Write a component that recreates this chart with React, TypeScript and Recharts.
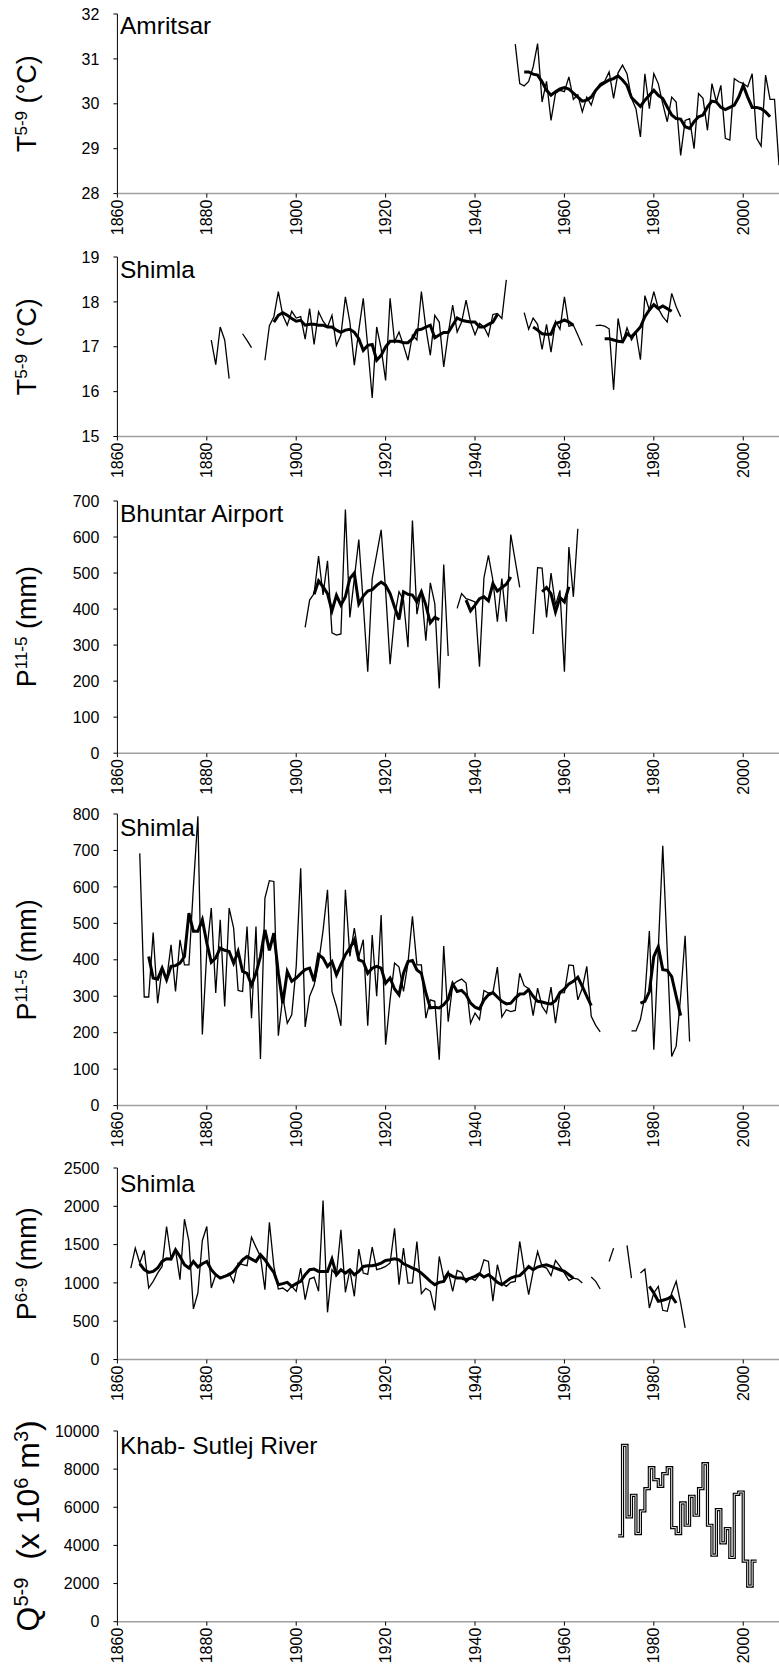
import React from 'react';
import { LineChart, Line, XAxis, YAxis } from 'recharts';

// ---------- x axis ----------
const X_DOMAIN: [number, number] = [1860, 2008];
const X_TICKS = [1860, 1880, 1900, 1920, 1940, 1960, 1980, 2000];

// ---------- Panel 1: Amritsar T5-9 ----------
const amritsarAnnualStart = 1949;
const amritsarAnnual = [
  31.33, 30.45, 30.4, 30.5, 30.82, 31.34, 30.04, 30.5, 29.63, 30.23,
  30.3, 30.27, 30.6, 30.1, 30.2, 29.82, 30.15, 29.97, 30.3, 30.45,
  30.5, 30.71, 30.12, 30.69, 30.86, 30.67, 30.12, 29.89, 29.26, 30.67,
  29.89, 30.67, 30.45, 30.0, 29.6, 30.15, 30.04, 28.85, 29.63, 29.67,
  29.0, 30.23, 30.12, 29.41, 30.45, 30.04, 30.41, 29.23, 29.19, 30.56,
  30.49, 30.45, 30.38, 30.67, 29.23, 29.06, 30.64, 30.1, 30.1, 28.63,
];
const amritsarSmoothStart = 1951;
const amritsarSmooth = [
  30.71, 30.71, 30.66, 30.64, 30.49, 30.3, 30.19, 30.27, 30.33, 30.36,
  30.33, 30.24, 30.15, 30.06, 30.08, 30.15, 30.3, 30.41, 30.47, 30.53,
  30.56, 30.62, 30.53, 30.41, 30.14, 30.04, 29.94, 30.08, 30.19, 30.3,
  30.19, 30.12, 29.93, 29.75, 29.67, 29.66, 29.49, 29.45, 29.6, 29.71,
  29.75, 29.93, 30.06, 30.04, 29.92, 29.87, 29.92, 29.97, 30.15, 30.41,
  30.15, 29.92, 29.92, 29.89, 29.82, 29.71,
];
const amritsarTicks = [28, 29, 30, 31, 32];

// ---------- Panel 2: Shimla T5-9 ----------
const shimlaTAnnualStart = 1881;
const shimlaTAnnual: (number | null)[] = [
  17.15, 16.6, 17.44, 17.15, 16.29, null, null, 17.29, 17.14, 16.98,
  null, null, 16.7, 17.47, 17.67, 18.23, 17.7, 17.48, 17.79, 17.64,
  17.67, 17.17, 17.85, 17.05, 17.78, 17.57, 17.44, 17.7, 17.03, 17.26,
  18.11, 17.55, 16.59, 17.37, 18.08, 17.0, 15.86, 17.44, 16.96, 16.25,
  18.08, 17.11, 17.33, 17.03, 16.7, 17.26, 17.15, 18.23, 17.42, 16.81,
  17.7, 17.55, 16.55, 17.29, 17.93, 17.33, 17.55, 18.04, 17.55, 17.27,
  17.52, 17.44, 17.24, 17.72, 17.74, 17.63, 18.49, null, null, null,
  17.76, 17.39, 17.64, 17.5, 16.94, 17.5, 16.88, 17.57, 17.39, 18.11,
  17.46, 17.48, 17.26, 17.03, null, null, 17.47, 17.48, 17.46, 17.4,
  16.04, 17.63, 17.09, 17.42, 17.15, 17.32, 16.71, 18.14, 17.82, 18.23,
  17.85, 17.67, 17.55, 18.19, 17.89, 17.67,
];
const shimlaTSmoothStart = 1895;
const shimlaTSmooth: (number | null)[] = [
  17.55, 17.7, 17.76, 17.7, 17.63, 17.57, 17.59, 17.48, 17.5, 17.5,
  17.48, 17.48, 17.44, 17.44, 17.37, 17.32, 17.37, 17.39, 17.32, 17.18,
  16.92, 17.03, 17.05, 16.7, 16.81, 17.0, 17.12, 17.12, 17.12, 17.09,
  17.09, 17.18, 17.37, 17.39, 17.44, 17.48, 17.2, 17.26, 17.32, 17.32,
  17.48, 17.64, 17.59, 17.57, 17.55, 17.55, 17.44, 17.44, 17.5, 17.55,
  17.72, null, null, null, null, null, null, null, 17.44, 17.37,
  17.29, 17.28, 17.28, 17.52, 17.55, 17.6, 17.55, 17.48, null, null,
  null, null, null, null, 17.18, 17.18, 17.15, 17.12, 17.11, 17.29,
  17.22, 17.33, 17.44, 17.67, 17.82, 17.94, 17.85, 17.91, 17.85, 17.79,
];
const shimlaTTicks = [15, 16, 17, 18, 19];

// ---------- Panel 3: Bhuntar Airport P11-5 ----------
const bhuntarAnnualStart = 1902;
const bhuntarAnnual: (number | null)[] = [
  349, 425, 443, 547, 439, 534, 334, 328, 331, 676,
  377, 485, 593, 415, 226, 485, 552, 620, 452, 247,
  379, 448, 425, 294, 646, 386, 452, 312, 473, 415,
  180, 524, 270, null, 402, 443, 429, 425, 420, 240,
  487, 549, 480, 365, 485, 365, 607, 534, 460, null,
  null, 331, 515, 514, 377, 500, 411, 452, 226, 572,
  434, 623,
];
const bhuntarSmoothStart = 1904;
const bhuntarSmooth: (number | null)[] = [
  441, 478, 462, 443, 395, 438, 411, 434, 485, 500,
  414, 436, 450, 454, 466, 475, 466, 443, 406, 371,
  448, 441, 439, 420, 448, 411, 362, 377, 371, null,
  null, null, null, null, 425, 395, 411, 429, 434, 423,
  471, 450, 460, 469, 489, null, null, null, null, null,
  null, 448, 460, 443, 392, 432, 420, 462,
];
const bhuntarTicks = [0, 100, 200, 300, 400, 500, 600, 700];

// ---------- Panel 4: Shimla P11-5 ----------
const shimlaPwAnnualStart = 1865;
const shimlaPwAnnual: (number | null)[] = [
  692, 298, 298, 475, 281, 377, 345, 441, 313, 455,
  386, 386, 600, 794, 195, 423, 542, 309, 510, 272,
  542, 487, 316, 313, 491, 240, 491, 128, 569, 617,
  615, 192, 300, 226, 249, 382, 651, 216, 300, 330,
  390, 480, 592, 313, 272, 219, 592, 409, 487, 409,
  455, 219, 468, 300, 523, 167, 290, 391, 380, 313,
  391, 519, 386, 386, 240, 290, 286, 126, 438, 230,
  331, 341, 347, 336, 226, 254, 236, 316, 309, 310,
  380, 243, 263, 258, 261, 363, 329, 321, 247, 322,
  272, 254, 325, 226, 309, 310, 386, 384, 290, 322,
  382, 245, 220, 202, null, null, null, null, null, null,
  205, 205, 236, 300, 479, 153, 430, 713, 424, 135,
  163, 300, 466, 176,
];
const shimlaPwSmoothStart = 1867;
const shimlaPwSmooth: (number | null)[] = [
  409, 350, 347, 377, 345, 382, 384, 391, 409, 528,
  478, 478, 510, 446, 393, 405, 432, 426, 423, 391,
  423, 368, 363, 331, 363, 409, 482, 426, 473, 363,
  281, 368, 341, 350, 362, 373, 377, 341, 414, 405,
  382, 395, 359, 387, 414, 432, 455, 400, 395, 363,
  377, 382, 377, 336, 350, 320, 304, 363, 395, 398,
  372, 363, 309, 268, 270, 268, 277, 292, 334, 313,
  316, 304, 281, 270, 265, 290, 304, 310, 298, 286,
  279, 281, 295, 306, 307, 318, 300, 286, 284, 281,
  279, 288, 310, 320, 334, 341, 352, 327, 300, 274,
  null, null, null, null, null, null, null, null, null, null,
  281, 286, 313, 409, 436, 373, 371, 354, 300, 247,
];
const shimlaPwTicks = [0, 100, 200, 300, 400, 500, 600, 700, 800];

// ---------- Panel 5: Shimla P6-9 ----------
const shimlaPsAnnualStart = 1863;
const shimlaPsAnnual: (number | null)[] = [
  1194, 1454, 1259, 1424, 933, 1020, 1128, 1215, 1736, 1324,
  1432, 1042, 1831, 1541, 660, 868, 1554, 1736, 933, 1107,
  1076, 1090, 1128, 1007, 1259, 1240, 1224, 1597, 1467, 1345,
  911, 1792, 1215, 920, 933, 890, 955, 890, 1194, 781,
  1050, 1076, 890, 2075, 616, 1172, 1100, 1693, 877, 1172,
  825, 1441, 1128, 1110, 1467, 1172, 1190, 1215, 1260, 1714,
  977, 1454, 998, 1000, 1541, 859, 930, 890, 642, 1345,
  1063, 1150, 890, 1163, 1137, 1007, 1063, 1033, 1107, 1302,
  1280, 760, 1237, 998, 955, 1007, 1020, 1541, 1172, 846,
  1150, 1410, 1215, 1194, 1094, 1293, 1215, 1128, 1033, 1063,
  1050, 998, null, 1076, 1020, 920, null, 1280, 1454, null,
  null, 1489, 1063, null, 1128, 1180, 673, 868, 955, 642,
  629, 868, 1020, 738, 412,
];
const shimlaPsSmoothStart = 1865;
const shimlaPsSmooth: (number | null)[] = [
  1250, 1172, 1137, 1150, 1194, 1280, 1315, 1311, 1432, 1345,
  1237, 1194, 1280, 1207, 1250, 1280, 1172, 1107, 1063, 1085,
  1107, 1150, 1224, 1302, 1345, 1311, 1280, 1367, 1302, 1215,
  1137, 977, 990, 1007, 955, 990, 1020, 1107, 1172, 1180,
  1150, 1150, 1150, 1311, 1107, 1172, 1128, 1172, 1107, 1150,
  1215, 1224, 1224, 1237, 1259, 1293, 1302, 1315, 1302, 1250,
  1224, 1194, 1172, 1128, 1076, 1020, 977, 1007, 1020, 1120,
  1085, 1063, 1063, 1042, 1063, 1085, 1120, 1076, 1107, 1063,
  1007, 977, 1020, 1063, 1085, 1094, 1150, 1215, 1172, 1207,
  1224, 1237, 1215, 1194, 1172, 1150, 1107, 1063, null, null,
  null, null, null, null, null, null, null, null, null, null,
  null, null, null, null, 955, 868, 760, 773, 790, 825,
  738,
];
const shimlaPsTicks = [0, 500, 1000, 1500, 2000, 2500];

// ---------- Panel 6: Khab - Sutlej River Q5-9 ----------
const khabStart = 1972;
const khabFlow = [
  4500, 9245, 5494, 6628, 4622, 5808, 6976, 8075, 7447, 7098,
  7761, 8075, 4936, 4622, 6227, 5058, 6576, 5581, 6976, 8284,
  5058, 3488, 5878, 4134, 4884, 3366, 6680, 6802, 3174, 1866,
  3174, 3174,
];
const khabTicks = [0, 2000, 4000, 6000, 8000, 10000];

// ---------- helpers ----------
type Series = { start: number; values: (number | null)[] };
function buildRows(map: Record<string, Series>) {
  const rows: any[] = [];
  for (let y = X_DOMAIN[0]; y <= X_DOMAIN[1]; y++) {
    const row: any = { year: y };
    for (const k of Object.keys(map)) {
      const s = map[k];
      const i = y - s.start;
      row[k] = i >= 0 && i < s.values.length ? s.values[i] : null;
    }
    rows.push(row);
  }
  return rows;
}

const FONT = "'Liberation Sans', Arial, Helvetica, sans-serif";
const W = 779;
const Y_AXIS_W = 117.4;
const PAD_TOP = 10;
const X_H = 55;
const NBSP = '\u00A0';

const XTick = (props: any) => {
  const { x, y, payload } = props;
  return (
    <text
      x={x}
      y={y}
      transform={`rotate(-90, ${x}, ${y})`}
      textAnchor="end"
      dy="0.35em"
      fontSize={16}
      fill="#000"
      fontFamily={FONT}
    >
      {payload.value}
    </text>
  );
};

function panelChart(
  top: number,
  bottom: number,
  data: any[],
  yDomain: [number, number],
  yTicks: number[],
  lines: React.ReactNode[],
) {
  const h = bottom - top + PAD_TOP + X_H;
  return (
    <div style={{ position: 'absolute', left: 0, top: top - PAD_TOP, width: W, height: h }}>
      <LineChart width={W} height={h} data={data} margin={{ top: PAD_TOP, right: 0, bottom: 0, left: 0 }}>
        <XAxis
          dataKey="year"
          type="number"
          domain={X_DOMAIN}
          ticks={X_TICKS}
          interval={0}
          height={X_H}
          tick={<XTick />}
          axisLine={{ stroke: '#a0a0a0', strokeWidth: 1.5 }}
          tickLine={{ stroke: '#000' }}
          tickSize={4}
          tickMargin={2}
        />
        <YAxis
          type="number"
          domain={yDomain}
          ticks={yTicks}
          interval={0}
          width={Y_AXIS_W}
          axisLine={{ stroke: '#000', strokeWidth: 1 }}
          tickLine={{ stroke: '#000' }}
          tickSize={4}
          tickMargin={14}
          tick={{ fontSize: 16, fill: '#000', fontFamily: FONT }}
        />
        {lines}
      </LineChart>
    </div>
  );
}

const thin = (key: string) => (
  <Line key={key} dataKey={key} type="linear" stroke="#000" strokeWidth={1.3} dot={false} activeDot={false} isAnimationActive={false} />
);
const thick = (key: string) => (
  <Line key={key} dataKey={key} type="linear" stroke="#000" strokeWidth={3} dot={false} activeDot={false} isAnimationActive={false} />
);

const P = [
  { top: 13.8, bottom: 193.4 },
  { top: 257, bottom: 436.5 },
  { top: 500.6, bottom: 752.8 },
  { top: 814, bottom: 1105.6 },
  { top: 1168, bottom: 1359.5 },
  { top: 1430.5, bottom: 1621.2 },
];

function AxisTitle({
  cx,
  cy,
  size,
  main,
  parts,
}: {
  cx: number;
  cy: number;
  size: number;
  main: string;
  parts: { t: string; sup?: boolean }[];
}) {
  return (
    <text
      x={cx}
      y={cy}
      transform={`rotate(-90, ${cx}, ${cy})`}
      textAnchor="middle"
      dy="0.35em"
      fontSize={size}
      fill="#000"
      fontFamily={FONT}
    >
      {main}
      {parts.map((p, i) =>
        p.sup ? (
          <tspan key={i} fontSize={Math.round(size * 0.63)} baselineShift="super">
            {p.t}
          </tspan>
        ) : (
          <tspan key={i}>{p.t}</tspan>
        ),
      )}
    </text>
  );
}

export default function App() {
  const d1 = buildRows({
    a: { start: amritsarAnnualStart, values: amritsarAnnual },
    s: { start: amritsarSmoothStart, values: amritsarSmooth },
  });
  const d2 = buildRows({
    a: { start: shimlaTAnnualStart, values: shimlaTAnnual },
    s: { start: shimlaTSmoothStart, values: shimlaTSmooth },
  });
  const d3 = buildRows({
    a: { start: bhuntarAnnualStart, values: bhuntarAnnual },
    s: { start: bhuntarSmoothStart, values: bhuntarSmooth },
  });
  const d4 = buildRows({
    a: { start: shimlaPwAnnualStart, values: shimlaPwAnnual },
    s: { start: shimlaPwSmoothStart, values: shimlaPwSmooth },
  });
  const d5 = buildRows({
    a: { start: shimlaPsAnnualStart, values: shimlaPsAnnual },
    s: { start: shimlaPsSmoothStart, values: shimlaPsSmooth },
  });
  const d6 = buildRows({ q: { start: khabStart, values: khabFlow } });

  const titleX = 120;
  const titles = [
    { t: 'Amritsar', y: P[0].top + 20.5 },
    { t: 'Shimla', y: P[1].top + 20.5 },
    { t: 'Bhuntar Airport', y: P[2].top + 21 },
    { t: 'Shimla', y: P[3].top + 22 },
    { t: 'Shimla', y: P[4].top + 24 },
    { t: 'Khab- Sutlej River', y: P[5].top + 23.5 },
  ];
  const mid = (i: number) => (P[i].top + P[i].bottom) / 2;
  const axisX = 27;

  return (
    <div style={{ position: 'absolute', left: 0, top: 0, width: W, height: 1667, background: '#fff', overflow: 'hidden' }}>
      {panelChart(P[0].top, P[0].bottom, d1, [28, 32], amritsarTicks, [thin('a'), thick('s')])}
      {panelChart(P[1].top, P[1].bottom, d2, [15, 19], shimlaTTicks, [thin('a'), thick('s')])}
      {panelChart(P[2].top, P[2].bottom, d3, [0, 700], bhuntarTicks, [thin('a'), thick('s')])}
      {panelChart(P[3].top, P[3].bottom, d4, [0, 800], shimlaPwTicks, [thin('a'), thick('s')])}
      {panelChart(P[4].top, P[4].bottom, d5, [0, 2500], shimlaPsTicks, [thin('a'), thick('s')])}
      {panelChart(P[5].top, P[5].bottom, d6, [0, 10000], khabTicks, [
        <Line key="qo" dataKey="q" type="stepAfter" stroke="#000" strokeWidth={3.2} dot={false} activeDot={false} isAnimationActive={false} />,
        <Line key="qi" dataKey="q" type="stepAfter" stroke="#fff" strokeWidth={0.9} dot={false} activeDot={false} isAnimationActive={false} />,
      ])}
      <svg width={W} height={1667} style={{ position: 'absolute', left: 0, top: 0, pointerEvents: 'none' }}>
        {titles.map((t, i) => (
          <text key={i} x={titleX} y={t.y} fontSize={24.5} fill="#000" fontFamily={FONT}>
            {t.t}
          </text>
        ))}
        <AxisTitle cx={axisX} cy={mid(0)} size={27} main="T" parts={[{ t: '5-9', sup: true }, { t: `${NBSP}(°C)` }]} />
        <AxisTitle cx={axisX} cy={mid(1)} size={27} main="T" parts={[{ t: '5-9', sup: true }, { t: `${NBSP}(°C)` }]} />
        <AxisTitle cx={axisX} cy={mid(2)} size={27} main="P" parts={[{ t: '11-5', sup: true }, { t: `${NBSP}(mm)` }]} />
        <AxisTitle cx={axisX} cy={mid(3)} size={27} main="P" parts={[{ t: '11-5', sup: true }, { t: `${NBSP}(mm)` }]} />
        <AxisTitle cx={axisX} cy={mid(4)} size={27} main="P" parts={[{ t: '6-9', sup: true }, { t: `${NBSP}(mm)` }]} />
        <AxisTitle
          cx={axisX + 1}
          cy={mid(5)}
          size={32}
          main="Q"
          parts={[
            { t: '5-9', sup: true },
            { t: `${NBSP}${NBSP}(x 10` },
            { t: '6', sup: true },
            { t: `${NBSP}m` },
            { t: '3', sup: true },
            { t: ')' },
          ]}
        />
      </svg>
    </div>
  );
}
